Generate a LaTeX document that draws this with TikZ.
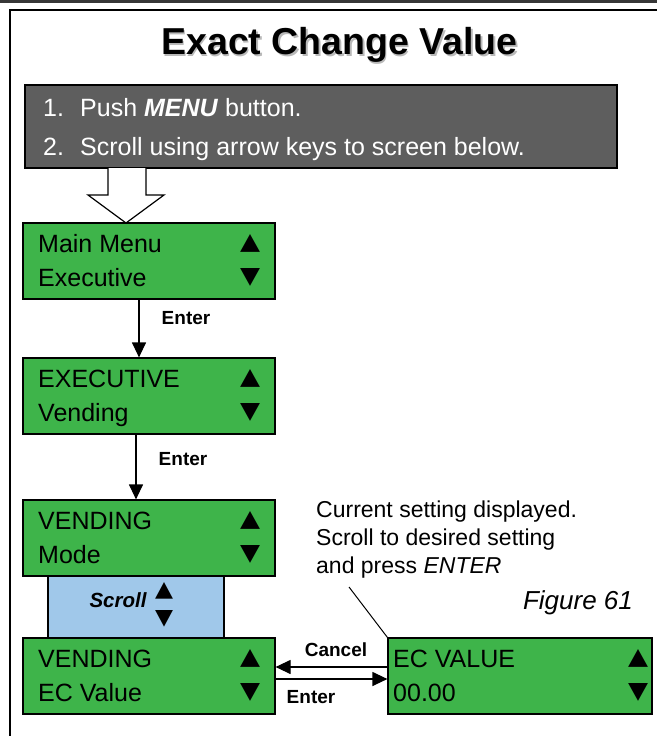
\documentclass[tikz,border=0pt]{standalone}
\usepackage{fontspec}
\setmainfont{Liberation Sans}
\newfontfamily\symfont{DejaVu Sans}
\usepackage{graphicx}
\usetikzlibrary{arrows.meta,positioning,calc}
\definecolor{lcdGreen}{RGB}{62,180,74}
\definecolor{stepGray}{RGB}{94,94,94}
\definecolor{scrollBlue}{RGB}{160,200,234}
\definecolor{barGray}{RGB}{55,55,55}
\newcommand{\upkey}{\resizebox{20pt}{15pt}{\symfont ▲}}
\newcommand{\dnkey}{\resizebox{20pt}{15pt}{\symfont ▼}}
\newcommand{\smallup}{\resizebox{18pt}{14pt}{\symfont ▲}}
\newcommand{\smalldn}{\resizebox{18pt}{14pt}{\symfont ▼}}
\tikzstyle{lcd}=[draw, line width=1.2pt, fill=lcdGreen, minimum width=252pt, minimum height=76pt, inner sep=0pt]
\tikzstyle{lcdtext}=[anchor=base west, inner sep=0pt, font=\fontsize{25}{25}\selectfont]
\tikzstyle{keynode}=[inner sep=0pt]
\tikzstyle{flowarrow}=[-{Triangle[width=14pt,length=15pt]}, line width=1.2pt]
\tikzstyle{lbl}=[inner sep=0pt, font=\fontsize{19}{19}\selectfont\bfseries]
\tikzstyle{steptext}=[anchor=base west, inner sep=0pt, text=white, font=\fontsize{25}{25}\selectfont]

\begin{document}
\begin{tikzpicture}[x=1pt,y=1pt]
    \useasboundingbox (0,0) rectangle (657,-736);
    % --- rahmen ---
    \fill[barGray] (0,0) rectangle (657,-3);
    \draw[line width=1.5pt] (10,-736) -- (10,-10) -- (657,-10);

    % --- titel ---
    \node (shadow) [font=\fontsize{37.5}{37.5}\selectfont\bfseries, text=gray!55] at (341,-46.5) {Exact Change Value};
    \node (title) [font=\fontsize{37.5}{37.5}\selectfont\bfseries] at (339.5,-45) {Exact Change Value};

    % --- anweisung ---
    \node (steps) [draw, line width=1.2pt, fill=stepGray, minimum width=592pt, minimum height=83pt, inner sep=0pt] at (321,-126.5) {};
    \node (step1) [steptext] at (43,-116) {\makebox[37pt][l]{1.}Push \textbf{\textit{MENU}} button.};
    \node (step2) [steptext] at (43,-155) {\makebox[37pt][l]{2.}Scroll using arrow keys to screen below.};
    \draw[line width=1.2pt, fill=white] (108,-168) -- (108,-195) -- (88,-195) -- (126,-223)
        -- (164,-195) -- (146,-195) -- (146,-168);

    % --- menue-anzeigen ---
    \foreach \n/\t/\a/\b in {menu/223/Main Menu/Executive, exec/358/EXECUTIVE/Vending,
                             vmode/500/VENDING/Mode, vec/638/VENDING/EC Value} {
      \node (\n) [lcd] at (149,-\t-38) {};
      \node (\n-a) [lcdtext] at (38,-\t-29) {\a};
      \node (\n-b) [lcdtext] at (38,-\t-63) {\b};
      \node (\n-up) [keynode] at (250,-\t-20) {\upkey};
      \node (\n-dn) [keynode] at (250,-\t-54) {\dnkey};
    }

    % scroll
    \node (scroll) [draw, line width=1.2pt, fill=scrollBlue, minimum width=176pt, minimum height=62pt, inner sep=0pt] at (136,-607) {};
    \node (scroll-txt) [lbl, font=\fontsize{20.5}{20.5}\selectfont\bfseries\itshape] at (118,-600) {Scroll};
    \node (scroll-up) [keynode] at (164,-591) {\smallup};
    \node (scroll-dn) [keynode] at (164,-619) {\smalldn};

    % ec value
    \node (ecval) [lcd, minimum width=264pt] at (520,-676) {};
    \node (ecval-a) [lcdtext] at (393,-667) {EC VALUE};
    \node (ecval-b) [lcdtext] at (393,-701) {00.00};
    \node (ecval-up) [keynode] at (638,-658) {\upkey};
    \node (ecval-dn) [keynode] at (638,-692) {\dnkey};

    % --- pfeile ---
    \draw[flowarrow] ([xshift=-10pt]menu.south) -- ([xshift=-10pt]exec.north);
    \node (enter1) [lbl] at (186,-318) {Enter};
    \draw[flowarrow] ([xshift=-13pt]exec.south) -- ([xshift=-13pt]vmode.north);
    \node (enter2) [lbl] at (183,-459) {Enter};
    \draw[flowarrow] ([yshift=9pt]ecval.west) -- ([yshift=9pt]vec.east);
    \node (cancel) [lbl] at (336,-650) {Cancel};
    \draw[flowarrow] ([yshift=-3pt]vec.east) -- ([yshift=-3pt]ecval.west);
    \node (enter3) [lbl] at (311,-697) {Enter};

    % --- hinweis ---
    \node (note) [anchor=north west, align=left, inner sep=0pt, font=\fontsize{23}{28}\selectfont] at (316,-501)
        {Current setting displayed.\\Scroll to desired setting\\and press \textit{ENTER}};
    \coordinate (lead) at (349,-587);
    \draw[line width=1pt] (lead) -- (ecval.north west);
    \node (fig) [font=\fontsize{26}{26}\selectfont\itshape] at (578,-603) {Figure 61};
\end{tikzpicture}
\end{document}
